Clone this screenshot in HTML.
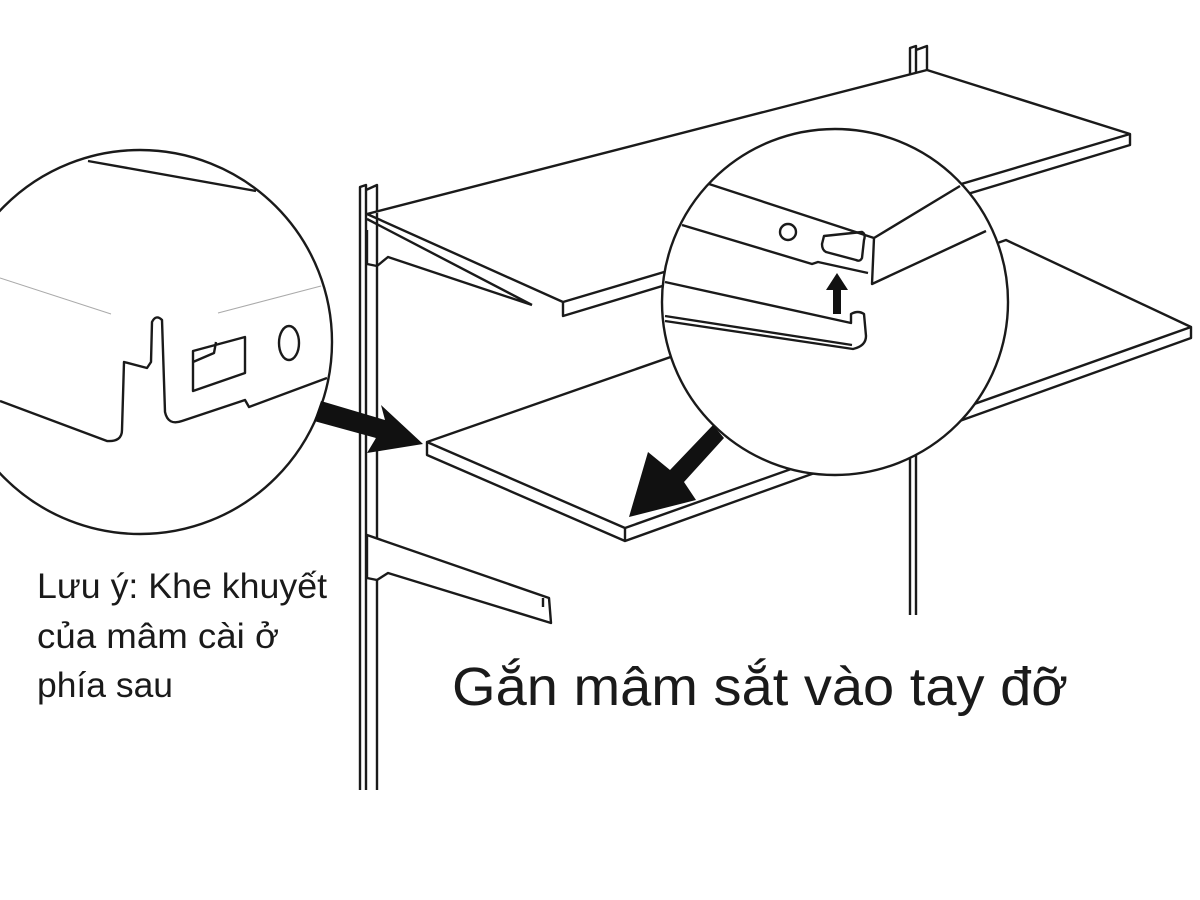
<!DOCTYPE html>
<html><head><meta charset="utf-8"><style>html,body{margin:0;padding:0;background:#fff}svg{display:block}</style></head>
<body>
<svg width="1200" height="900" viewBox="0 0 1200 900" xmlns="http://www.w3.org/2000/svg">
<g fill="none" stroke="#1a1a1a" stroke-width="2.4" stroke-linejoin="round">
<!-- left upright -->
<path d="M360,790 V187 L366,185 V790 M366,190 L377,185 V790"/>
<!-- right upright -->
<path d="M910,615 V48 L916,46 V615 M916,50 L927,46 V70"/>
<!-- top shelf -->
<path d="M367,214 L927,70 L1130,134 L1130,145 L563,316 L563,302 L1130,134 M563,302 L367,214" fill="#fff"/>
<!-- top bracket -->
<path d="M367,219 L532,305 M367,230 V264 L377,266 L388,257 L532,305"/>
<!-- bottom shelf -->
<path d="M427,442 L1006,240 L1191,327 L1191,338 L625,541 L427,455 Z M427,442 L625,528 L1191,327 M625,528 V541" fill="#fff"/>
<!-- bottom bracket -->
<path d="M367,535 L549,598 L551,623 L388,573 L377,580 L367,578 Z M543,598 V607" fill="#fff"/>
<!-- left circle -->
<circle cx="140" cy="342" r="192" fill="#fff"/>
<path d="M88,161 L256,191"/>
<path d="M0,278 L111,314 M218,313 L321,286" stroke="#aaa" stroke-width="1"/>
<path d="M0,401 L107,441 Q122,442 122,430 L124,362 L147,368 L151,362 L152,322 Q156,314 162,320 L165,412 Q168,426 182,421 L245,400 L249,407 L327,378"/>
<path d="M193,351 L245,337 L245,373 L193,391 Z M193,362 L214,353 L216,342"/>
<ellipse cx="289" cy="343" rx="10" ry="17"/>
<!-- right circle -->
<circle cx="835" cy="302" r="173" fill="#fff"/>
<path d="M709,184 L874,238 L960,186 M682,225 L812,264 L818,262 L868,273 M874,238 L872,284 L986,231"/>
<circle cx="788" cy="232" r="8"/>
<path d="M824,236 L862,232 Q866,234 864,240 L862,258 Q860,262 856,260 L826,252 Q822,250 822,244 Z"/>
<path d="M665,282 L851,323 V314 Q858,310 864,314 L866,336 Q866,346 853,349 L665,321 M665,316 L852,345"/>
</g>
<!-- arrows -->
<g fill="#111">
<polygon points="837,273 826,290 833,290 833,314 841,314 841,290 848,290"/>
<polygon points="321,401 385,420 381,405 423,444 367,453 376,438 314,421"/>
<polygon points="713,425 724,438 684,482 696,500 629,517 648,452 670,470"/>
</g>
<g font-family="'Liberation Sans','Noto Sans CJK SC',sans-serif" fill="#1a1a1a">
<text x="37" y="598" font-size="35" textLength="290" lengthAdjust="spacingAndGlyphs">Lưu ý: Khe khuyết</text>
<text x="37" y="648" font-size="35" textLength="242" lengthAdjust="spacingAndGlyphs">của mâm cài ở</text>
<text x="37" y="697" font-size="35" textLength="136" lengthAdjust="spacingAndGlyphs">phía sau</text>
<text x="452" y="705" font-size="54" textLength="616" lengthAdjust="spacingAndGlyphs">Gắn mâm sắt vào tay đỡ</text>
</g>
</svg>
</body></html>
